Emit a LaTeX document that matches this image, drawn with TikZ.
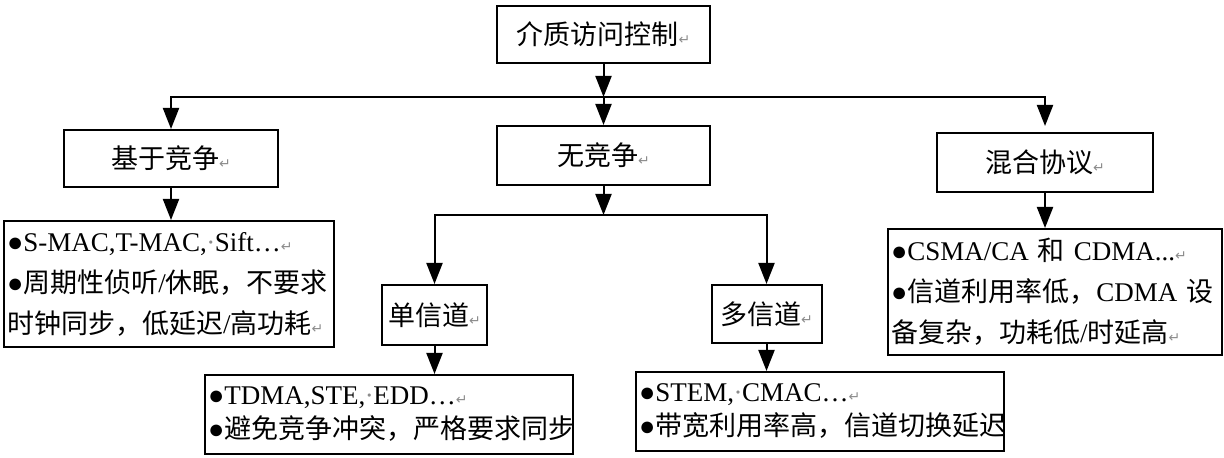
\documentclass[tikz,border=0pt]{standalone}
\usepackage{fontspec}
\setmainfont{Liberation Serif}
\newfontfamily\zh{Noto Sans CJK SC}
\newfontfamily\markfont{DejaVu Sans}
\usetikzlibrary{arrows.meta}
% segni di paragrafo e di spazio (grigi)
\newcommand\ret{{\markfont\fontsize{7}{7}\selectfont\color{black!45}↵}}
\newcommand\spc{\makebox[0.3em]{\color{black!45}·}}

\begin{document}
\begin{tikzpicture}[x=0.5pt, y=-0.5pt,
    % stili generali
    box/.style={draw=black, line width=1pt, inner sep=0pt, font=\fontsize{13.5}{16}\selectfont},
    note/.style={box, align=left, inner xsep=1.5pt},
    arrow/.style={-{Triangle[length=10.5pt, width=8pt]}, line width=1pt},
    link/.style={line width=1pt, line cap=rect}
  ]
  \useasboundingbox (0,0) rectangle (1224,458);

  % 1. radice
  \node[box, minimum width=106.5pt, minimum height=28.5pt] (mac) at (603.5,34.5) {{\zh 介质访问控制}\ret};

  % 2. secondo livello
  \node[box, minimum width=107pt, minimum height=28.5pt] (jz) at (171,158.5) {{\zh 基于竞争}\ret};
  \node[box, minimum width=106.5pt, minimum height=29.5pt] (wjz) at (603.5,155.5) {{\zh 无竞争}\ret};
  \node[box, minimum width=108pt, minimum height=29.5pt] (hh) at (1045,162.5) {{\zh 混合协议}\ret};

  % 3. canali
  \node[box, minimum width=52.5pt, minimum height=30pt] (dan) at (434.5,315) {{\zh 单信道}\ret};
  \node[box, minimum width=55pt, minimum height=29pt] (duo) at (766.5,314) {{\zh 多信道}\ret};

  % 4. riquadri descrittivi
  \node[note, text width=162pt, minimum width=165pt, minimum height=63pt,
        font=\fontsize{13.5}{20.5}\selectfont] (smac) at (169,284) {%
    ●S-MAC,T-MAC,\spc Sift…\ret\\
    ●{\zh 周期性侦听}/{\zh 休眠，不要求}\\
    {\zh 时钟同步，低延迟}/{\zh 高功耗}\ret};
  \node[note, text width=164pt, minimum width=167pt, minimum height=63pt,
        font=\fontsize{13.5}{20.5}\selectfont] (csma) at (1055,292) {%
    ●CSMA/CA {\zh 和} CDMA...\ret\\
    ●{\zh 信道利用率低，}CDMA {\zh 设}\\
    {\zh 备复杂，功耗低}/{\zh 时延高}\ret};
  \node[note, text width=181pt, minimum width=184pt, minimum height=39.5pt,
        font=\fontsize{13.5}{17}\selectfont] (tdma) at (389,414.5) {%
    ●TDMA,STE,\spc EDD…\ret\\
    ●{\zh 避免竞争冲突，严格要求同步}};
  \node[note, text width=180.75pt, minimum width=183.75pt, minimum height=39.5pt,
        font=\fontsize{13.5}{17}\selectfont] (stem) at (819.75,411.5) {%
    ●STEM,\spc CMAC…\ret\\
    ●{\zh 带宽利用率高，信道切换延迟}};

  % 5. connettori
  \coordinate (j1) at (603.5,97);
  \draw[arrow] (mac) -- (j1);
  \draw[link] (jz.north |- j1) -- (hh.north |- j1);
  \draw[arrow] (jz.north |- j1) -- (jz.north);
  \draw[arrow] (j1) -- (wjz.north);
  \draw[arrow, shorten >=3pt] (hh.north |- j1) -- (hh.north);

  \draw[arrow] (jz.south) -- (jz.south |- smac.north);

  \coordinate (j2) at (603.5,215);
  \draw[arrow] (wjz) -- (j2);
  \draw[link] (dan.north |- j2) -- (duo.north |- j2);
  \draw[arrow] (dan.north |- j2) -- (dan.north);
  \draw[arrow] (duo.north |- j2) -- (duo.north);

  \draw[arrow] (dan.south) -- (dan.south |- tdma.north);
  \draw[arrow] (duo.south) -- (duo.south |- stem.north);
  \draw[arrow] (hh.south) -- (hh.south |- csma.north);
\end{tikzpicture}
\end{document}
